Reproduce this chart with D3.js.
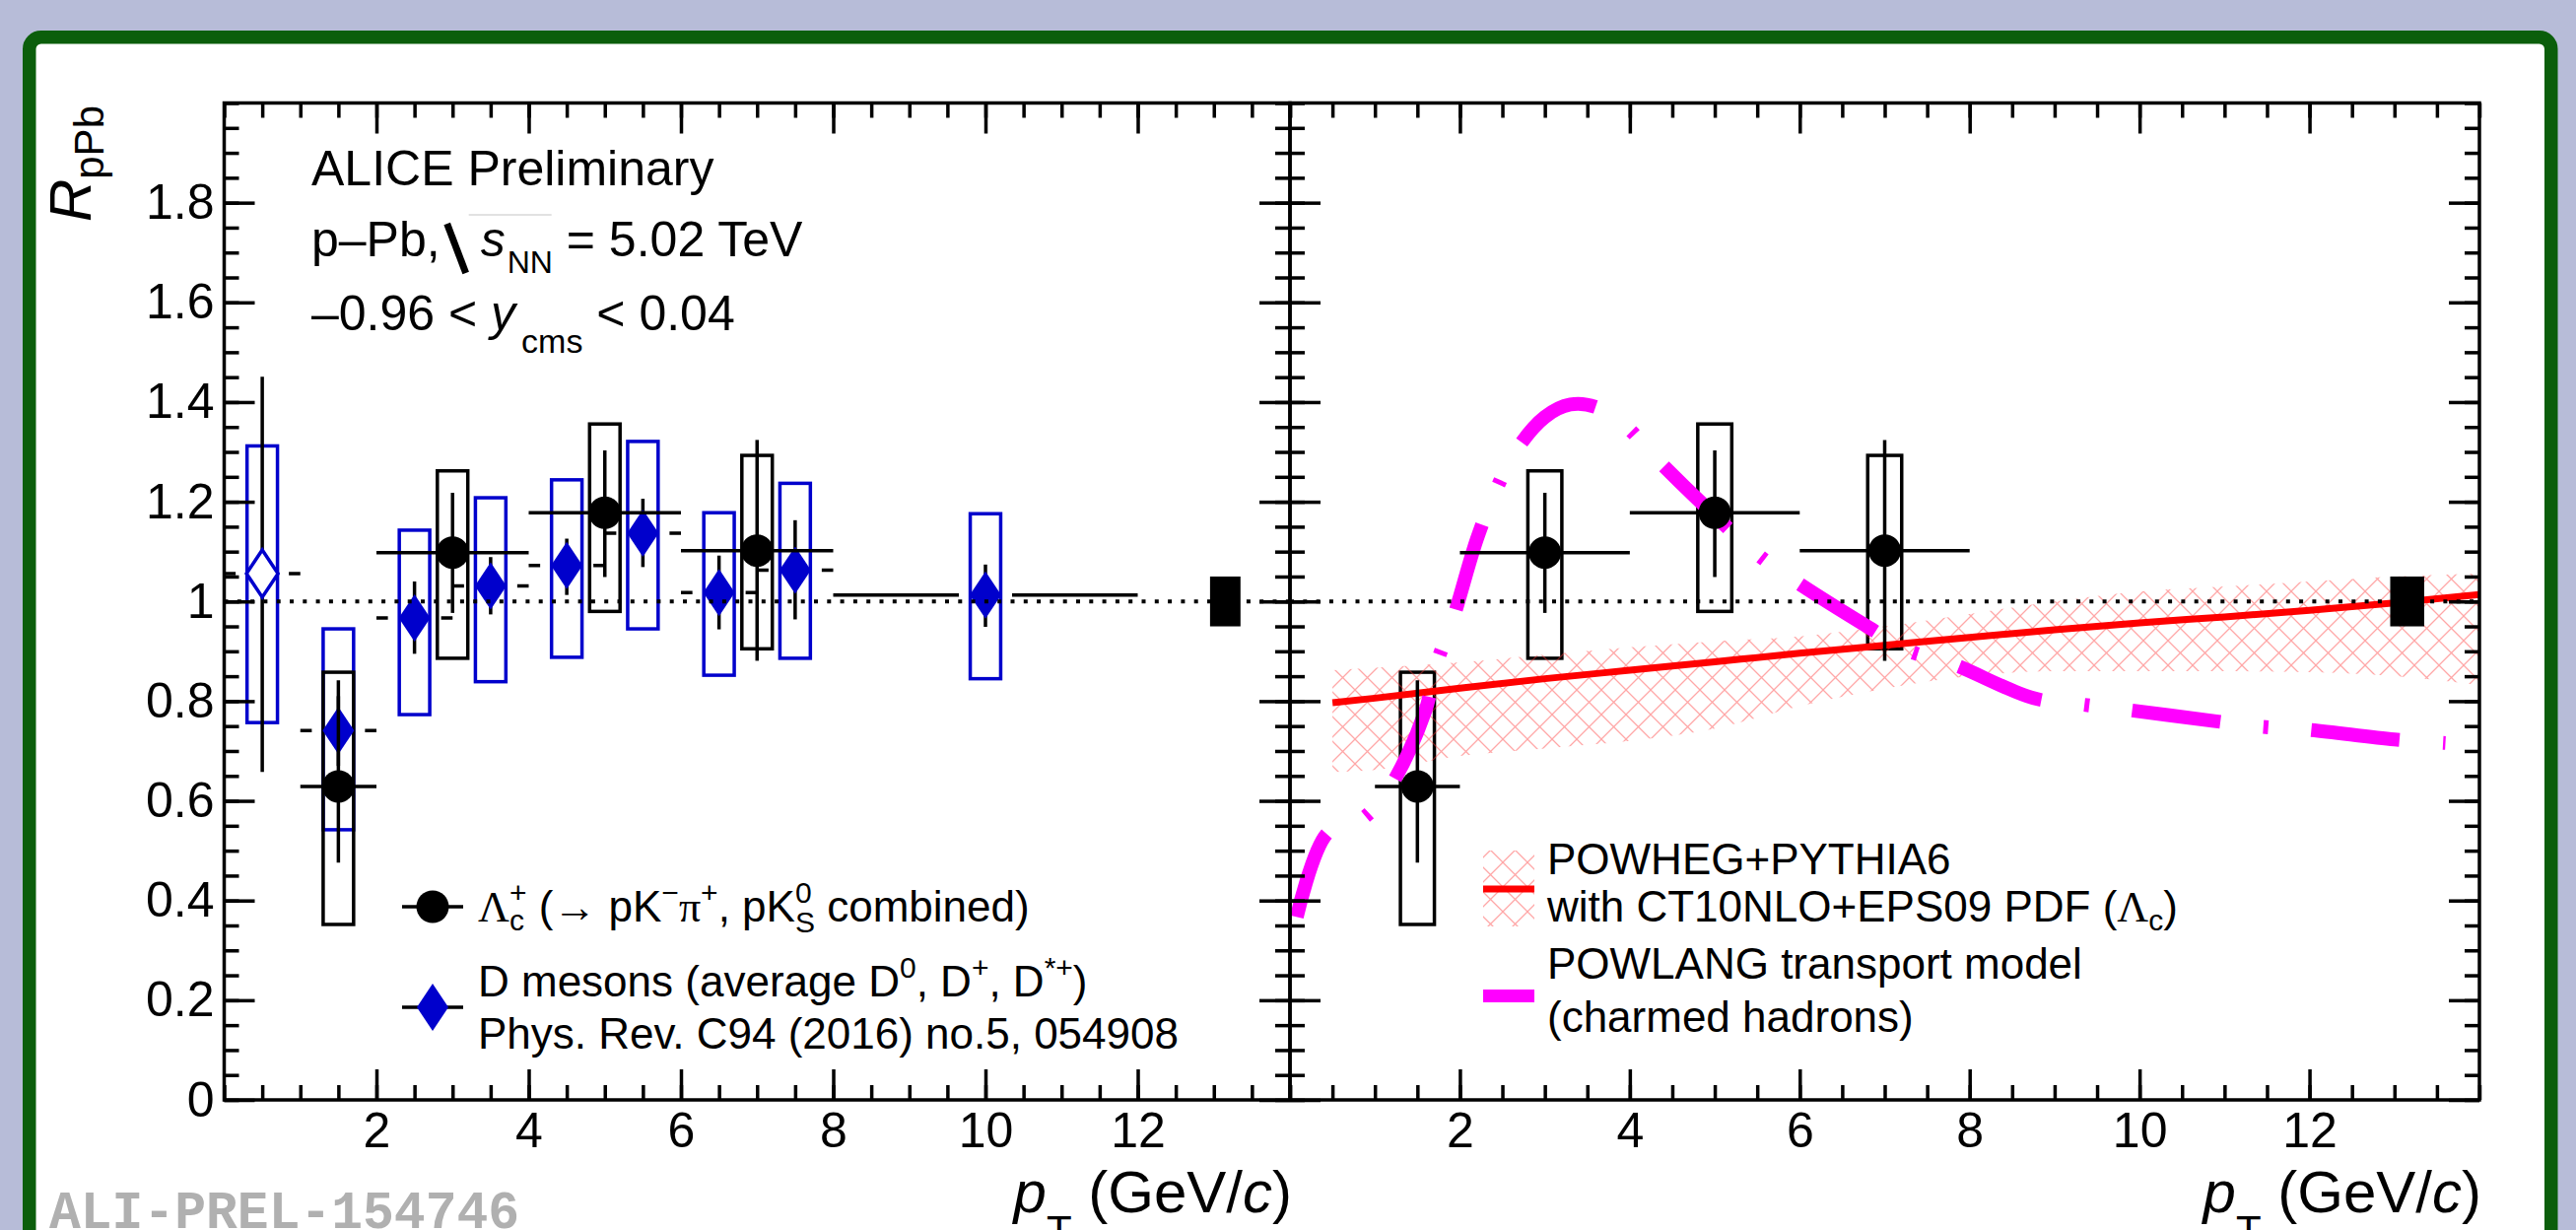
<!DOCTYPE html>
<html>
<head>
<meta charset="utf-8">
<script src="https://cdn.jsdelivr.net/npm/d3@7"></script>
<style>
html, body { margin: 0; padding: 0; background: #b7bcd8; }
svg { display: block; font-family: "Liberation Sans", Arial, Helvetica, sans-serif; }
text { white-space: pre; }
</style>
</head>
<body>
<svg id="canvas" width="2614" height="1248"></svg>
<script>
// Lambda_c+ RpPb (ALICE preliminary)
const lcPt = [1.5, 3, 5, 7];
const lcBinLo = [1, 2, 4, 6];
const lcBinHi = [2, 4, 6, 8];
const lcVal = [0.629, 1.098, 1.178, 1.102];
const lcStatLo = [0.476, 0.977, 1.049, 0.881];
const lcStatHi = [0.842, 1.218, 1.303, 1.324];
const lcSysLo = [0.352, 0.886, 0.980, 0.905];
const lcSysHi = [0.858, 1.262, 1.356, 1.293];

// D mesons, PRC 94 (2016) 054908
const dPt = [0.5, 1.5, 2.5, 3.5, 4.5, 5.5, 6.5, 7.5, 10];
const dBinLo = [0, 1, 2, 3, 4, 5, 6, 7, 8];
const dBinHi = [1, 2, 3, 4, 5, 6, 7, 8, 12];
const dVal = [1.056, 0.741, 0.967, 1.031, 1.072, 1.137, 1.018, 1.063, 1.013];
const dStatLo = [0.658, 0.67, 0.895, 0.974, 1.013, 1.069, 0.944, 0.964, 0.949];
const dStatHi = [1.451, 0.81, 1.040, 1.089, 1.126, 1.206, 1.092, 1.163, 1.074];
const dSysLo = [0.757, 0.542, 0.773, 0.839, 0.888, 0.945, 0.852, 0.886, 0.845];
const dSysHi = [1.312, 0.945, 1.143, 1.208, 1.244, 1.321, 1.178, 1.237, 1.176];

// normalisation uncertainty box
const normPt = 13.15;
const normUnc = 0.05;

// POWHEG+PYTHIA6 with CT10NLO+EPS09
const powhegPt = [0.5, 1, 2, 3, 4, 5, 6, 7, 8, 9, 10, 11, 12, 13, 14];
const powhegVal = [0.797, 0.806, 0.826, 0.845, 0.862, 0.879, 0.896, 0.912, 0.928, 0.943, 0.957, 0.969, 0.982, 0.997, 1.014];
const powhegLo = [0.658, 0.662, 0.69, 0.705, 0.72, 0.745, 0.79, 0.825, 0.85, 0.86, 0.86, 0.86, 0.858, 0.85, 0.832];
const powhegHi = [0.862, 0.867, 0.878, 0.893, 0.908, 0.92, 0.93, 0.95, 0.975, 1.0, 1.02, 1.03, 1.04, 1.05, 1.056];

// POWLANG transport model
const powlangPt = [0.08, 0.44, 0.82, 1.15, 1.59, 1.72, 1.91, 2.2, 2.41, 2.65, 3.0, 3.3, 3.6, 3.95, 4.31, 4.89, 5.47, 5.9, 6.82, 7.28, 7.79, 8.75, 9.29, 9.83, 10.88, 11.41, 11.96, 13.0, 13.6];
const powlangVal = [0.367, 0.535, 0.56, 0.62, 0.779, 0.872, 0.96, 1.125, 1.217, 1.30, 1.37, 1.395, 1.39, 1.352, 1.287, 1.19, 1.099, 1.046, 0.947, 0.901, 0.875, 0.806, 0.794, 0.783, 0.76, 0.749, 0.743, 0.723, 0.716];

const xTicks = [2, 4, 6, 8, 10, 12];
const yTicks = [0, 0.2, 0.4, 0.6, 0.8, 1, 1.2, 1.4, 1.6, 1.8];

const W = 2614, H = 1248;
const svg = d3.select("#canvas");
const blue = "#0000cc";
const serif = '"Liberation Serif", "DejaVu Serif", serif';

const xL = d3.scaleLinear().domain([0, 14]).range([227.5, 1309]);
const xR = d3.scaleLinear().domain([0, 14]).range([1309, 2516]);
const y = d3.scaleLinear().domain([0, 2]).range([1116, 104.5]);

const xMinor = d3.range(0, 14.001, 0.5);
const yMinor = d3.range(0, 2.001, 0.05);
const boxHalf = 0.2;
const errGap = 27;

// background + frame
svg.append("rect").attr("width", W).attr("height", H).attr("fill", "#b7bcd8");
svg.append("rect").attr("x", 29.75).attr("y", 37.75).attr("width", 2559).attr("height", 1300)
  .attr("rx", 12).attr("fill", "#fff").attr("stroke", "#0b5e0b").attr("stroke-width", 13.5);

const defs = svg.append("defs");
const pat = defs.append("pattern").attr("id", "hatch").attr("patternUnits", "userSpaceOnUse")
  .attr("width", 25).attr("height", 25);
pat.append("path").attr("d", "M0,0L25,25M25,0L0,25")
  .attr("stroke", "rgba(255,60,60,0.45)").attr("stroke-width", 1.3).attr("fill", "none");
defs.append("clipPath").attr("id", "clipR").append("rect")
  .attr("x", xR(0)).attr("y", y(2)).attr("width", xR(14) - xR(0)).attr("height", y(0) - y(2));

function richText(g, x, yy, size, segs, anchor) {
  const t = g.append("text").attr("x", x).attr("y", yy).attr("font-size", size)
    .attr("text-anchor", anchor || "start").attr("fill", "#000");
  let shift = 0, lastW = 0;
  segs.forEach(s => {
    const sp = t.append("tspan").text(s.t);
    const sh = s.shift || 0;
    if (sh !== shift) sp.attr("dy", sh - shift);
    shift = sh;
    if (s.size) sp.attr("font-size", s.size);
    if (s.it) sp.attr("font-style", "italic");
    if (s.serif) sp.attr("font-family", serif);
    let dx = s.dx || 0;
    if (s.back) dx -= lastW;
    if (dx) sp.attr("dx", dx);
    lastW = sp.node().getComputedTextLength();
  });
  return t;
}

function styleAxis(sel) {
  sel.select(".domain").remove();
  sel.selectAll("line").attr("stroke", "#000").attr("stroke-width", 3.5);
  sel.selectAll("text").attr("font-size", 50).attr("fill", "#000")
    .attr("font-family", '"Liberation Sans", Arial, sans-serif');
}

function drawAxes(x, labels) {
  const [a, b] = x.range();
  const g = svg.append("g");
  const add = (tr, axis) => g.append("g").attr("transform", tr).call(axis).call(styleAxis);
  add(`translate(0,${y(0)})`, d3.axisBottom(x).tickValues(xMinor).tickSize(-15).tickFormat(""));
  add(`translate(0,${y(0)})`, d3.axisBottom(x).tickValues(xTicks).tickSize(-31).tickPadding(12).tickFormat(d => d));
  add(`translate(0,${y(2)})`, d3.axisTop(x).tickValues(xMinor).tickSize(-15).tickFormat(""));
  add(`translate(0,${y(2)})`, d3.axisTop(x).tickValues(xTicks).tickSize(-31).tickFormat(""));
  add(`translate(${a},0)`, d3.axisLeft(y).tickValues(yMinor).tickSize(-15).tickFormat(""));
  add(`translate(${a},0)`, d3.axisLeft(y).tickValues(yTicks).tickSize(-31).tickPadding(10)
    .tickFormat(labels ? d3.format("~g") : ""));
  add(`translate(${b},0)`, d3.axisRight(y).tickValues(yMinor).tickSize(-15).tickFormat(""));
  add(`translate(${b},0)`, d3.axisRight(y).tickValues(yTicks).tickSize(-31).tickFormat(""));
  g.append("rect").attr("x", a).attr("y", y(2)).attr("width", b - a).attr("height", y(0) - y(2))
    .attr("fill", "none").attr("stroke", "#000").attr("stroke-width", 3.5);
  richText(svg, b + 2, 1230, 60, [
    { t: "p", it: true }, { t: "T", size: 42, shift: 33 }, { t: " (GeV/" }, { t: "c", it: true }, { t: ")" }
  ], "end");
}

function dotted(x) {
  svg.append("line").attr("x1", x(0)).attr("x2", x(14)).attr("y1", y(1)).attr("y2", y(1))
    .attr("stroke", "#000").attr("stroke-width", 4).attr("stroke-dasharray", "4,9.3");
}

function normBox(x) {
  svg.append("rect").attr("x", x(normPt - boxHalf)).attr("width", x(normPt + boxHalf) - x(normPt - boxHalf))
    .attr("y", y(1 + normUnc)).attr("height", y(1 - normUnc) - y(1 + normUnc)).attr("fill", "#000");
}

const lc = lcPt.map((p, i) => ({ p, lo: lcBinLo[i], hi: lcBinHi[i], v: lcVal[i],
  sl: lcStatLo[i], sh: lcStatHi[i], yl: lcSysLo[i], yh: lcSysHi[i] }));
const dm = dPt.map((p, i) => ({ i, p, lo: dBinLo[i], hi: dBinHi[i], v: dVal[i],
  sl: dStatLo[i], sh: dStatHi[i], yl: dSysLo[i], yh: dSysHi[i] }));

function sysBoxes(g, x, data, color) {
  g.selectAll(null).data(data).enter().append("rect")
    .attr("x", d => x(d.p - boxHalf)).attr("width", d => x(d.p + boxHalf) - x(d.p - boxHalf))
    .attr("y", d => y(d.yh)).attr("height", d => y(d.yl) - y(d.yh))
    .attr("fill", "none").attr("stroke", color).attr("stroke-width", 3.5);
}

function lcPoints(g, x) {
  g.selectAll(null).data(lc).enter().append("line")
    .attr("x1", d => x(d.lo)).attr("x2", d => x(d.hi)).attr("y1", d => y(d.v)).attr("y2", d => y(d.v))
    .attr("stroke", "#000").attr("stroke-width", 3.5);
  g.selectAll(null).data(lc).enter().append("line")
    .attr("x1", d => x(d.p)).attr("x2", d => x(d.p)).attr("y1", d => y(d.sl)).attr("y2", d => y(d.sh))
    .attr("stroke", "#000").attr("stroke-width", 3.5);
  g.selectAll(null).data(lc).enter().append("circle")
    .attr("cx", d => x(d.p)).attr("cy", d => y(d.v)).attr("r", 16.5).attr("fill", "#000");
}

const diamond = "M0,-24L16,0L0,24L-16,0Z";

// ---------- left panel ----------
const gL = svg.append("g");
dotted(xL);
sysBoxes(gL, xL, dm, blue);
sysBoxes(gL, xL, lc, "#000");
normBox(xL);
gL.selectAll(null).data(dm).enter().append("path")
  .attr("d", d => `M${xL(d.lo)},${y(d.v)}H${xL(d.p) - errGap}M${xL(d.p) + errGap},${y(d.v)}H${xL(d.hi)}`)
  .attr("stroke", "#000").attr("stroke-width", 3.5);
gL.selectAll(null).data(dm).enter().append("line")
  .attr("x1", d => xL(d.p)).attr("x2", d => xL(d.p)).attr("y1", d => y(d.sl)).attr("y2", d => y(d.sh))
  .attr("stroke", "#000").attr("stroke-width", 3.5);
gL.selectAll(null).data(dm).enter().append("path")
  .attr("d", diamond).attr("transform", d => `translate(${xL(d.p)},${y(d.v)})`)
  .attr("fill", d => d.i === 0 ? "#fff" : blue)
  .attr("stroke", blue).attr("stroke-width", d => d.i === 0 ? 3.5 : 0);
lcPoints(gL, xL);

// left legend
const legL = svg.append("g");
legL.append("line").attr("x1", 408).attr("x2", 470).attr("y1", 920).attr("y2", 920)
  .attr("stroke", "#000").attr("stroke-width", 3.5);
legL.append("circle").attr("cx", 439).attr("cy", 920).attr("r", 16.5).attr("fill", "#000");
richText(legL, 485, 935, 44, [
  { t: "Λ", serif: true }, { t: "c", size: 30, shift: 9 }, { t: "+", size: 30, shift: -19, back: true },
  { t: " (→ pK" }, { t: "−", size: 30, shift: -19 }, { t: "π", serif: true }, { t: "+", size: 30, shift: -19 },
  { t: ", pK" }, { t: "0", size: 30, shift: -19 }, { t: "S", size: 30, shift: 11, back: true },
  { t: " combined)" }
]);
legL.append("line").attr("x1", 408).attr("x2", 470).attr("y1", 1022).attr("y2", 1022)
  .attr("stroke", "#000").attr("stroke-width", 3.5);
legL.append("path").attr("d", diamond).attr("transform", "translate(439,1022)").attr("fill", blue);
richText(legL, 485, 1011, 44, [
  { t: "D mesons (average D" }, { t: "0", size: 30, shift: -19 }, { t: ", D" }, { t: "+", size: 30, shift: -19 },
  { t: ", D" }, { t: "*+", size: 30, shift: -19 }, { t: ")" }
]);
richText(legL, 485, 1064, 44, [{ t: "Phys. Rev. C94 (2016) no.5, 054908" }]);

// header text
const hdr = svg.append("g");
richText(hdr, 316, 188, 50, [{ t: "ALICE Preliminary" }]);
const l2 = richText(hdr, 316, 260, 50, [
  { t: "p–Pb," }, { t: "s", it: true, dx: 41 }, { t: "NN", size: 32, shift: 17, dx: 2 }, { t: " = 5.02 TeV" }
]);
const sx = l2.node().getStartPositionOfChar(5).x;
hdr.append("path").attr("d", `M${sx - 34},227L${sx - 15},277`).attr("stroke", "#000").attr("stroke-width", 7);
hdr.append("path").attr("d", `M${sx - 12},218H${sx + 72}`).attr("stroke", "#d8d8d8").attr("stroke-width", 1.5);
richText(hdr, 316, 335, 50, [
  { t: "–0.96 < " }, { t: "y", it: true }, { t: "cms", size: 34, shift: 23, dx: 6 }, { t: " < 0.04" }
]);

// y title
const yt = svg.append("g").attr("transform", "translate(92,107) rotate(-90)");
richText(yt, 0, 0, 60, [{ t: "R", it: true }, { t: "pPb", size: 42, shift: 13 }], "end");

// ---------- right panel ----------
const gR = svg.append("g");
dotted(xR);
sysBoxes(gR, xR, lc, "#000");
normBox(xR);
const gM = gR.append("g").attr("clip-path", "url(#clipR)");
const band = powhegPt.map((p, i) => ({ p, lo: powhegLo[i], hi: powhegHi[i], v: powhegVal[i] }));
gM.append("path").datum(band)
  .attr("d", d3.area().x(d => xR(d.p)).y0(d => y(d.lo)).y1(d => y(d.hi)).curve(d3.curveMonotoneX))
  .attr("fill", "url(#hatch)");
gM.append("path").datum(band)
  .attr("d", d3.line().x(d => xR(d.p)).y(d => y(d.v)).curve(d3.curveMonotoneX))
  .attr("fill", "none").attr("stroke", "#ff0000").attr("stroke-width", 7);
const pl = powlangPt.map((p, i) => ({ p, v: powlangVal[i] }));
gM.append("path").datum(pl)
  .attr("d", d3.line().x(d => xR(d.p)).y(d => y(d.v)).curve(d3.curveCatmullRom.alpha(0.5)))
  .attr("fill", "none").attr("stroke", "#ff00ff").attr("stroke-width", 14)
  .attr("stroke-dasharray", "90,44,5,44");
lcPoints(gR, xR);

// right legend
const legR = svg.append("g");
legR.append("rect").attr("x", 1505).attr("y", 863).attr("width", 52).attr("height", 77).attr("fill", "url(#hatch)");
legR.append("line").attr("x1", 1505).attr("x2", 1557).attr("y1", 902).attr("y2", 902)
  .attr("stroke", "#ff0000").attr("stroke-width", 7);
richText(legR, 1570, 887, 44, [{ t: "POWHEG+PYTHIA6" }]);
richText(legR, 1570, 935, 44, [{ t: "with CT10NLO+EPS09 PDF (" }, { t: "Λ", serif: true }, { t: "c", size: 30, shift: 9 }, { t: ")" }]);
legR.append("rect").attr("x", 1505).attr("y", 1004).attr("width", 52).attr("height", 13).attr("fill", "#ff00ff");
richText(legR, 1570, 993, 44, [{ t: "POWLANG transport model" }]);
richText(legR, 1570, 1047, 44, [{ t: "(charmed hadrons)" }]);

drawAxes(xL, true);
drawAxes(xR, false);

// watermark
svg.append("text").attr("x", 50).attr("y", 1246).attr("font-size", 53).attr("font-weight", "bold")
  .attr("font-family", '"Liberation Mono", "DejaVu Sans Mono", monospace').attr("fill", "#b0b0b0")
  .text("ALI-PREL-154746");
</script>
</body>
</html>
